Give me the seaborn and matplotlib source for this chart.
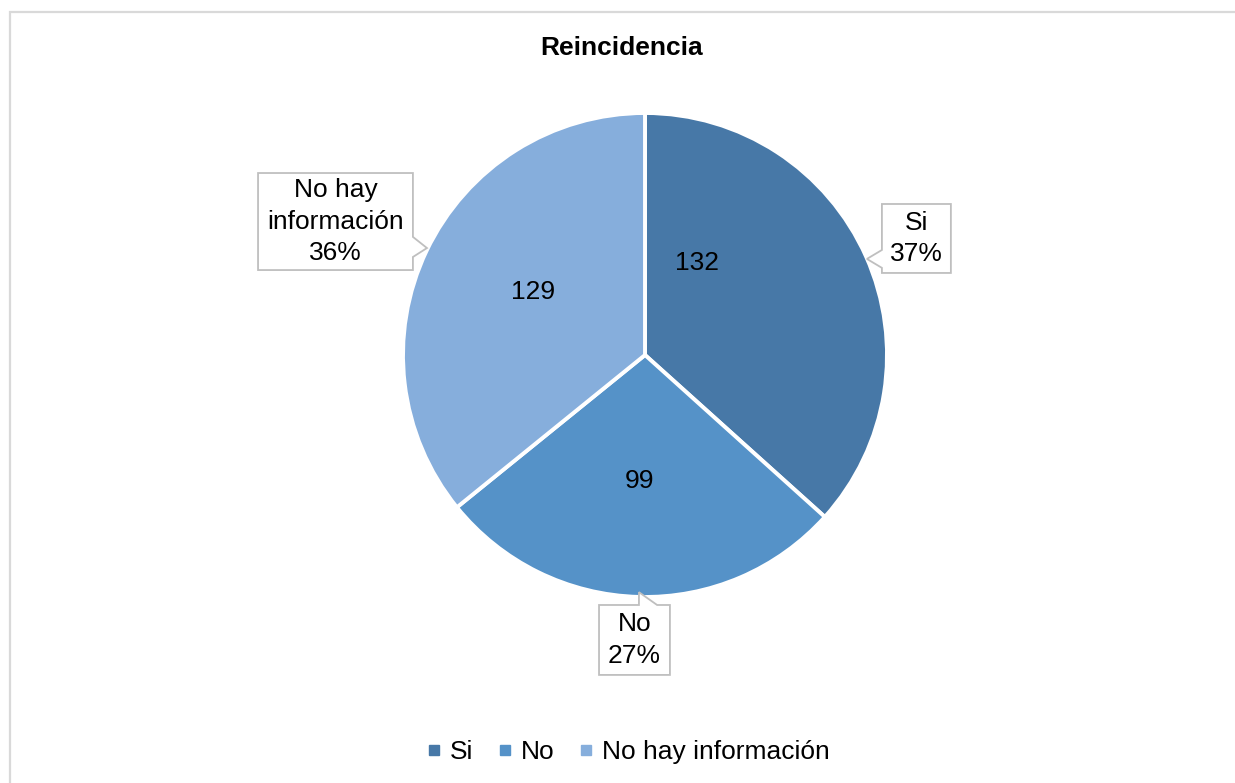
import numpy as np
import matplotlib
matplotlib.use("Agg")
import matplotlib.pyplot as plt
from matplotlib.patches import Polygon, Rectangle
from matplotlib.lines import Line2D
import seaborn as sns

# Data
categories = ["Si", "No", "No hay información"]
counts = [132, 99, 129]
title = "Reincidencia"

sns.set_theme(style="white")
plt.rcParams["font.family"] = ["Liberation Sans", "DejaVu Sans"]
plt.rcParams["text.color"] = "black"

colors = sns.color_palette(["#4778A7", "#5592C8", "#86AEDC"])


def percent_labels(values):
    """Whole-number percentages that add up to 100 (largest remainder)."""
    vals = np.asarray(values, dtype=float)
    raw = vals / vals.sum() * 100
    base = np.floor(raw).astype(int)
    short = 100 - base.sum()
    order = np.argsort(-(raw - base))
    base[order[:short]] += 1
    return base


W, H, DPI = 1235, 783, 100
fig = plt.figure(figsize=(W / DPI, H / DPI), dpi=DPI)
fig.patch.set_facecolor("white")

# pie axes: centre at (645, 355) px, radius 242 px
cx, cy, R = 645, 355, 242
ax = fig.add_axes([0, 0, 1, 1])

ax.pie(counts, colors=colors, startangle=90, counterclock=False, radius=1,
       wedgeprops=dict(edgecolor="white", linewidth=2.8), center=(0, 0),
       frame=True)
ax.set_xlim(-cx / R, (W - cx) / R)
ax.set_ylim(-(H - cy) / R, cy / R)
ax.set_axis_off()

FS = 19

# values inside the wedges
value_pos = [(0.215, 0.380), (-0.021, -0.521), (-0.463, 0.260)]
for v, (x, y) in zip(counts, value_pos):
    ax.text(x, y, f"{v}", ha="center", va="center", fontsize=FS, color="black")

# callout boxes: (x0, x1, y0, y1), pointer base, pointer tip
pcts = percent_labels(counts)
callouts = [
    dict(box=(0.979, 1.264, 0.339, 0.624), side="left", base=(0.434, 0.360), tip=(0.917, 0.397)),
    dict(box=(-0.190, 0.103, -1.322, -1.033), side="top", base=(-0.025, 0.050), tip=(-0.025, -0.980)),
    dict(box=(-1.599, -0.959, 0.351, 0.752), side="right", base=(0.488, 0.405), tip=(-0.901, 0.442)),
]
label_text = ["Si", "No", "No hay\ninformación"]
for lab, p, c in zip(label_text, pcts, callouts):
    x0, x1, y0, y1 = c["box"]
    b0, b1 = c["base"]
    tx, ty = c["tip"]
    if c["side"] == "left":
        pts = [(x0, y1), (x1, y1), (x1, y0), (x0, y0), (x0, b1), (tx, ty), (x0, b0)]
    elif c["side"] == "right":
        pts = [(x0, y1), (x1, y1), (x1, b0), (tx, ty), (x1, b1), (x1, y0), (x0, y0)]
    else:  # top
        pts = [(x0, y1), (b0, y1), (tx, ty), (b1, y1), (x1, y1), (x1, y0), (x0, y0)]
    ax.add_patch(Polygon(pts, closed=True, facecolor="white", edgecolor="#BFBFBF",
                         linewidth=1.3, zorder=5))
    ax.text((x0 + x1) / 2, (y0 + y1) / 2, f"{lab}\n{p}%", ha="center", va="center",
            fontsize=FS, linespacing=1.4, zorder=6, color="black")

# title
fig.text(622 / W, 1 - 48 / H, title, ha="center", va="center", fontsize=FS,
         fontweight="bold", color="black")

# legend
handles = [Line2D([0], [0], marker="s", linestyle="none", markersize=6.5,
                  markerfacecolor=col, markeredgecolor=col) for col in colors]
leg = fig.legend(handles, categories, loc="center", bbox_to_anchor=(628 / W, 1 - 752 / H),
                 ncol=3, frameon=False, fontsize=FS, handlelength=0.6, handletextpad=0.3,
                 columnspacing=0.9)
for t in leg.get_texts():
    t.set_color("black")

# chart frame
fig.patches.append(Rectangle((9.5 / W, -0.05), 1.2, 1 - 12.5 / H + 0.05,
                             transform=fig.transFigure, fill=False,
                             edgecolor="#D9D9D9", linewidth=1.6))

fig.savefig("out.png", dpi=DPI, facecolor="white")
